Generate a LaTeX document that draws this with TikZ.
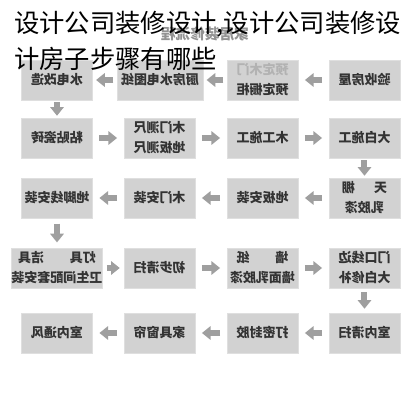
\documentclass[tikz,border=0pt]{standalone}
\usepackage{fontspec}
\newfontfamily\cjk{Noto Sans CJK SC}
\usetikzlibrary{arrows.meta}
\newcommand{\mir}[1]{\reflectbox{\begin{tabular}{@{}c@{}}#1\end{tabular}}}

\begin{document}
\begin{tikzpicture}[x=0.75pt,y=-0.75pt,
every node/.style={font=\cjk\bfseries\fontsize{9.75}{15}\selectfont, text=black!80},
paso/.style={draw=gray!25, fill=gray!35, minimum width=53.25pt, minimum height=30pt, inner sep=0pt},
ancho/.style={paso, minimum width=64.5pt},
flecha/.style={draw=gray!75, line width=4.5pt, -{Triangle[length=6.5pt,width=10pt]}, shorten <=5pt, shorten >=5pt},
corta/.style={flecha, shorten <=2.5pt, shorten >=2.5pt},
baja/.style={flecha, shorten <=1.5pt, shorten >=1.5pt}
]
\fill[white] (0,0) rectangle (419,400);
% Fila 1
\node[paso] (yanshou) at (364.5,80) {\mir{验收房屋}};
\node[paso] (yuding) at (262.5,80) {\mir{\textcolor{gray!60}{预定木门}\\预定橱柜}};
\node[paso, minimum width=64.5pt] (tuzhi) at (160,80) {\mir{厨房水电图纸}};
\node[paso] (shuidian) at (57,80) {\mir{水电改造}};
% Fila 2
\node[paso] (cizhuan) at (57,138) {\mir{粘贴瓷砖}};
\node[paso] (cechi) at (159.5,138) {\mir{木门测尺\\地板测尺}};
\node[paso] (mugong) at (262.5,138) {\mir{木工施工}};
\node[paso] (dabai) at (364.5,138) {\mir{大白施工}};
% Fila 3
\node[paso] (tianpeng) at (364.5,198) {\mir{天\hspace{1.5em}棚\\乳胶漆}};
\node[paso] (diban) at (262.5,198) {\mir{地板安装}};
\node[paso] (mumen) at (159.5,198) {\mir{木门安装}};
\node[paso] (dijiao) at (57,198) {\mir{地脚线安装}};
% Fila 4
\node[ancho] (jieju) at (57,268) {\mir{灯具\hspace{2em}洁具\\卫生间配套安装}};
\node[paso] (qingsao) at (159.5,268) {\mir{初步清扫}};
\node[paso] (qiangmian) at (262.5,268) {\mir{墙\hspace{2em}纸\\墙面乳胶漆}};
\node[paso] (xiubu) at (364.5,268) {\mir{门口线边\\大白修补}};
% Fila 5
\node[paso] (shinei) at (364.5,333) {\mir{室内清扫}};
\node[paso] (mifeng) at (262.5,333) {\mir{打密封胶}};
\node[paso] (jiaju) at (159.5,333) {\mir{家具窗帘}};
\node[paso] (tongfeng) at (57,333) {\mir{室内通风}};
% Flechas
\draw[flecha] (yanshou) to (yuding);
\draw[corta] (yuding) to (tuzhi);
\draw[corta] (tuzhi) to (shuidian);
\draw[baja] (shuidian) to (cizhuan);
\draw[flecha] (cizhuan) to (cechi);
\draw[flecha] (cechi) to (mugong);
\draw[flecha] (mugong) to (dabai);
\draw[baja] (dabai) to (tianpeng);
\draw[flecha] (tianpeng) to (diban);
\draw[flecha] (diban) to (mumen);
\draw[flecha] (mumen) to (dijiao);
\draw[flecha, shorten <=4pt, shorten >=4pt] (dijiao) to (jieju);
\draw[corta, shorten <=3pt, shorten >=3pt] (jieju) to (qingsao);
\draw[flecha] (qingsao) to (qiangmian);
\draw[flecha] (qiangmian) to (xiubu);
\draw[corta, shorten <=3pt, shorten >=3pt] (xiubu) to (shinei);
\draw[flecha] (shinei) to (mifeng);
\draw[flecha] (mifeng) to (jiaju);
\draw[flecha] (jiaju) to (tongfeng);
% Cabecera
\node[text=gray!85, font=\cjk\bfseries\fontsize{11}{13}\selectfont] (cabecera) at (205,34) {\reflectbox{家居装修流程}};
% Titulo
\node[anchor=base west, inner sep=0pt, text=black, font=\cjk\fontsize{19}{22}\selectfont] (titulo1) at (14,32) {设计公司装修设计,设计公司装修设};
\node[anchor=base west, inner sep=0pt, text=black, font=\cjk\fontsize{19}{22}\selectfont] (titulo2) at (14,68) {计房子步骤有哪些};
\end{tikzpicture}
\end{document}
